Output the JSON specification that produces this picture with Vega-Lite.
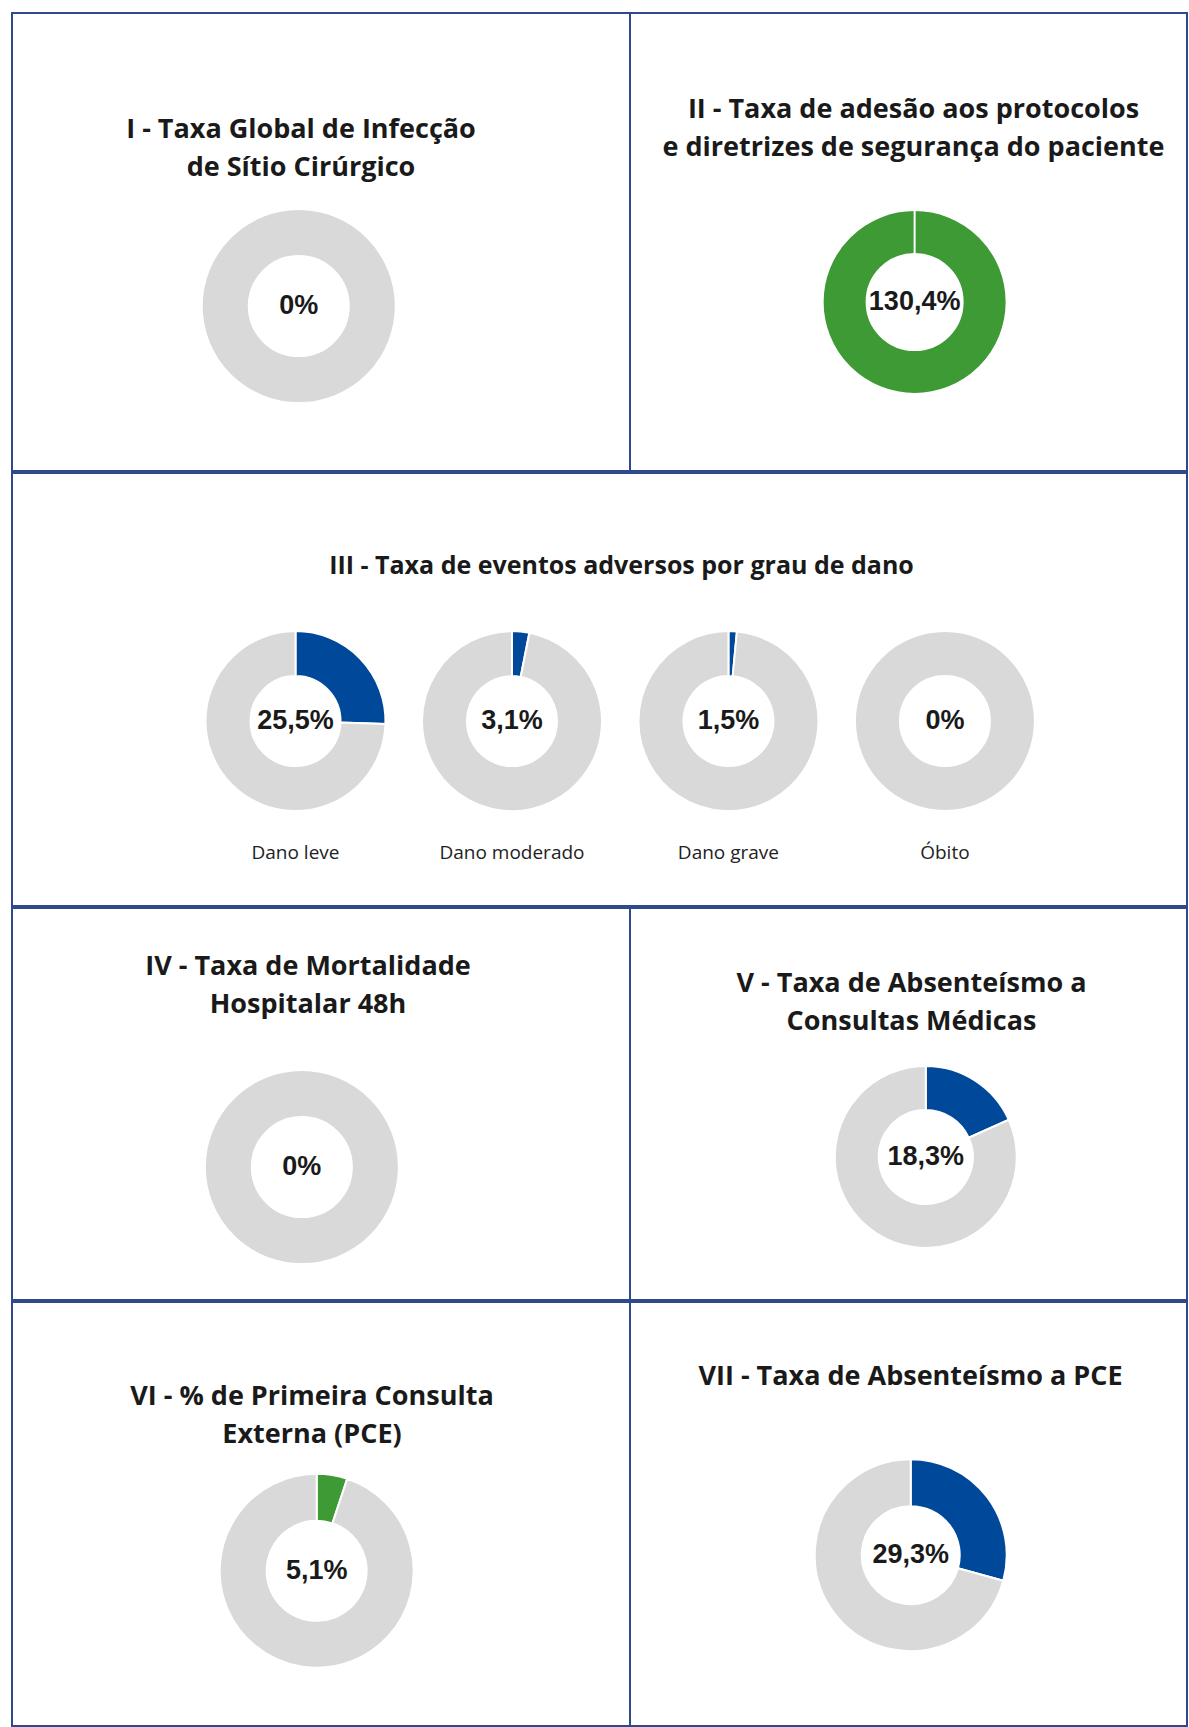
{
  "$schema": "https://vega.github.io/schema/vega-lite/v6.json",
  "padding": {"left": 11, "top": 12, "right": 0, "bottom": 0},
  "background": "white",
  "spacing": 0,
  "config": {
    "view": {"stroke": "#2F4A8A", "strokeWidth": 2},
    "concat": {"spacing": 0},
    "locale": {"number": {"decimal": ",", "thousands": ".", "grouping": [3], "currency": ["R$", ""]}},
    "title": {"font": "Open Sans", "fontWeight": "bold", "fontSize": 27, "color": "#1a1a1a", "lineHeight": 38, "anchor": "middle", "frame": "group"},
    "arc": {"stroke": "white", "strokeWidth": 2},
    "text": {"font": "Liberation Sans", "fontWeight": "bold", "fontSize": 27, "color": "#1a1a1a", "baseline": "middle", "align": "center"}
  },
  "datasets": {
    "ind_I": [{"parte": "valor", "pct": 0}, {"parte": "restante", "pct": 1}],
    "ind_II": [{"parte": "valor", "pct": 1.304}, {"parte": "restante", "pct": 0}],
    "ind_III": [
      {"grau": "Dano leve", "parte": "valor", "pct": 0.255}, {"grau": "Dano leve", "parte": "restante", "pct": 0.745},
      {"grau": "Dano moderado", "parte": "valor", "pct": 0.031}, {"grau": "Dano moderado", "parte": "restante", "pct": 0.969},
      {"grau": "Dano grave", "parte": "valor", "pct": 0.015}, {"grau": "Dano grave", "parte": "restante", "pct": 0.985},
      {"grau": "Óbito", "parte": "valor", "pct": 0}, {"grau": "Óbito", "parte": "restante", "pct": 1}
    ],
    "ind_IV": [{"parte": "valor", "pct": 0}, {"parte": "restante", "pct": 1}],
    "ind_V": [{"parte": "valor", "pct": 0.183}, {"parte": "restante", "pct": 0.817}],
    "ind_VI": [{"parte": "valor", "pct": 0.051}, {"parte": "restante", "pct": 0.949}],
    "ind_VII": [{"parte": "valor", "pct": 0.293}, {"parte": "restante", "pct": 0.707}]
  },
  "resolve": {"scale": {"color": "independent", "theta": "independent", "x": "independent", "y": "independent"}},
  "vconcat": [
    {
      "bounds": "flush",
      "resolve": {"scale": {"color": "independent", "theta": "independent", "x": "independent", "y": "independent"}},
      "hconcat": [
        {
          "width": 618, "height": 458,
          "title": {"text": ["I - Taxa Global de Infecção", "de Sítio Cirúrgico"], "offset": -169, "dx": -20},
          "data": {"name": "ind_I"},
          "encoding": {
            "x": {"datum": 0.464, "type": "quantitative", "scale": {"domain": [0, 1], "nice": false}, "axis": null},
            "y": {"datum": 0.64, "type": "quantitative", "scale": {"domain": [0, 1], "nice": false, "reverse": true}, "axis": null}
          },
          "layer": [
            {
              "mark": {"type": "arc", "radius": 97, "innerRadius": 50},
              "encoding": {
                "theta": {"field": "pct", "type": "quantitative", "stack": true},
                "color": {"field": "parte", "type": "nominal", "scale": {"domain": ["valor", "restante"], "range": ["#00489A", "#D9D9D9"]}, "legend": null},
                "order": {"field": "parte", "type": "nominal", "sort": "descending"}
              }
            },
            {
              "transform": [{"filter": "datum.parte == 'valor'"}],
              "mark": {"type": "text"},
              "encoding": {"text": {"field": "pct", "type": "quantitative", "format": ".1~%"}}
            }
          ]
        },
        {
          "width": 557, "height": 458,
          "title": {"text": ["II - Taxa de adesão aos protocolos", "e diretrizes de segurança do paciente"], "offset": -149, "dx": 5},
          "data": {"name": "ind_II"},
          "encoding": {
            "x": {"datum": 0.511, "type": "quantitative", "scale": {"domain": [0, 1], "nice": false}, "axis": null},
            "y": {"datum": 0.631, "type": "quantitative", "scale": {"domain": [0, 1], "nice": false, "reverse": true}, "axis": null}
          },
          "layer": [
            {
              "mark": {"type": "arc", "radius": 92, "innerRadius": 48},
              "encoding": {
                "theta": {"field": "pct", "type": "quantitative", "stack": true},
                "color": {"field": "parte", "type": "nominal", "scale": {"domain": ["valor", "restante"], "range": ["#3D9A35", "#D9D9D9"]}, "legend": null},
                "order": {"field": "parte", "type": "nominal", "sort": "descending"}
              }
            },
            {
              "transform": [{"filter": "datum.parte == 'valor'"}],
              "mark": {"type": "text"},
              "encoding": {"text": {"field": "pct", "type": "quantitative", "format": ".1~%"}}
            }
          ]
        }
      ]
    },
    {
      "width": 1175, "height": 433,
      "title": {"text": "III - Taxa de eventos adversos por grau de dano", "offset": -106, "dx": 22, "fontSize": 25},
      "data": {"name": "ind_III"},
      "transform": [
        {"stack": "pct", "groupby": ["grau"], "sort": [{"field": "parte", "order": "descending"}], "offset": "normalize", "as": ["t0", "t1"]}
      ],
      "encoding": {
        "x": {
          "field": "grau", "type": "nominal", "sort": ["Dano leve", "Dano moderado", "Dano grave", "Óbito"],
          "scale": {"type": "band", "paddingInner": 0, "paddingOuter": 0.714, "align": 0.567},
          "axis": {"title": null, "orient": "bottom", "domain": false, "ticks": false, "grid": false, "offset": -63, "labelPadding": 0, "labelFont": "Open Sans", "labelFontSize": 19, "labelColor": "#222222", "labelAngle": 0}
        },
        "y": {"datum": 0.573, "type": "quantitative", "scale": {"domain": [0, 1], "nice": false, "reverse": true}, "axis": null}
      },
      "layer": [
        {
          "mark": {"type": "arc", "radius": 90, "innerRadius": 45},
          "encoding": {
            "theta": {"field": "t0", "type": "quantitative", "scale": {"domain": [0, 1]}},
            "theta2": {"field": "t1"},
            "color": {"field": "parte", "type": "nominal", "scale": {"domain": ["valor", "restante"], "range": ["#00489A", "#D9D9D9"]}, "legend": null}
          }
        },
        {
          "transform": [{"filter": "datum.parte == 'valor'"}],
          "mark": {"type": "text"},
          "encoding": {"text": {"field": "pct", "type": "quantitative", "format": ".1~%"}}
        }
      ]
    },
    {
      "bounds": "flush",
      "resolve": {"scale": {"color": "independent", "theta": "independent", "x": "independent", "y": "independent"}},
      "hconcat": [
        {
          "width": 618, "height": 392,
          "title": {"text": ["IV - Taxa de Mortalidade", "Hospitalar 48h"], "offset": -111, "dx": -13},
          "data": {"name": "ind_IV"},
          "encoding": {
            "x": {"datum": 0.469, "type": "quantitative", "scale": {"domain": [0, 1], "nice": false}, "axis": null},
            "y": {"datum": 0.661, "type": "quantitative", "scale": {"domain": [0, 1], "nice": false, "reverse": true}, "axis": null}
          },
          "layer": [
            {
              "mark": {"type": "arc", "radius": 97, "innerRadius": 50},
              "encoding": {
                "theta": {"field": "pct", "type": "quantitative", "stack": true},
                "color": {"field": "parte", "type": "nominal", "scale": {"domain": ["valor", "restante"], "range": ["#00489A", "#D9D9D9"]}, "legend": null},
                "order": {"field": "parte", "type": "nominal", "sort": "descending"}
              }
            },
            {
              "transform": [{"filter": "datum.parte == 'valor'"}],
              "mark": {"type": "text"},
              "encoding": {"text": {"field": "pct", "type": "quantitative", "format": ".1~%"}}
            }
          ]
        },
        {
          "width": 557, "height": 392,
          "title": {"text": ["V - Taxa de Absenteísmo a", "Consultas Médicas"], "offset": -128, "dx": 3},
          "data": {"name": "ind_V"},
          "encoding": {
            "x": {"datum": 0.531, "type": "quantitative", "scale": {"domain": [0, 1], "nice": false}, "axis": null},
            "y": {"datum": 0.635, "type": "quantitative", "scale": {"domain": [0, 1], "nice": false, "reverse": true}, "axis": null}
          },
          "layer": [
            {
              "mark": {"type": "arc", "radius": 91, "innerRadius": 47},
              "encoding": {
                "theta": {"field": "pct", "type": "quantitative", "stack": true},
                "color": {"field": "parte", "type": "nominal", "scale": {"domain": ["valor", "restante"], "range": ["#00489A", "#D9D9D9"]}, "legend": null},
                "order": {"field": "parte", "type": "nominal", "sort": "descending"}
              }
            },
            {
              "transform": [{"filter": "datum.parte == 'valor'"}],
              "mark": {"type": "text"},
              "encoding": {"text": {"field": "pct", "type": "quantitative", "format": ".1~%"}}
            }
          ]
        }
      ]
    },
    {
      "bounds": "flush",
      "resolve": {"scale": {"color": "independent", "theta": "independent", "x": "independent", "y": "independent"}},
      "hconcat": [
        {
          "width": 618, "height": 424,
          "title": {"text": ["VI - % de Primeira Consulta", "Externa (PCE)"], "offset": -147, "dx": -9},
          "data": {"name": "ind_VI"},
          "encoding": {
            "x": {"datum": 0.493, "type": "quantitative", "scale": {"domain": [0, 1], "nice": false}, "axis": null},
            "y": {"datum": 0.634, "type": "quantitative", "scale": {"domain": [0, 1], "nice": false, "reverse": true}, "axis": null}
          },
          "layer": [
            {
              "mark": {"type": "arc", "radius": 97, "innerRadius": 50},
              "encoding": {
                "theta": {"field": "pct", "type": "quantitative", "stack": true},
                "color": {"field": "parte", "type": "nominal", "scale": {"domain": ["valor", "restante"], "range": ["#3D9A35", "#D9D9D9"]}, "legend": null},
                "order": {"field": "parte", "type": "nominal", "sort": "descending"}
              }
            },
            {
              "transform": [{"filter": "datum.parte == 'valor'"}],
              "mark": {"type": "text"},
              "encoding": {"text": {"field": "pct", "type": "quantitative", "format": ".1~%"}}
            }
          ]
        },
        {
          "width": 557, "height": 424,
          "title": {"text": "VII - Taxa de Absenteísmo a PCE", "offset": -89, "dx": 2},
          "data": {"name": "ind_VII"},
          "encoding": {
            "x": {"datum": 0.504, "type": "quantitative", "scale": {"domain": [0, 1], "nice": false}, "axis": null},
            "y": {"datum": 0.597, "type": "quantitative", "scale": {"domain": [0, 1], "nice": false, "reverse": true}, "axis": null}
          },
          "layer": [
            {
              "mark": {"type": "arc", "radius": 96, "innerRadius": 49},
              "encoding": {
                "theta": {"field": "pct", "type": "quantitative", "stack": true},
                "color": {"field": "parte", "type": "nominal", "scale": {"domain": ["valor", "restante"], "range": ["#00489A", "#D9D9D9"]}, "legend": null},
                "order": {"field": "parte", "type": "nominal", "sort": "descending"}
              }
            },
            {
              "transform": [{"filter": "datum.parte == 'valor'"}],
              "mark": {"type": "text"},
              "encoding": {"text": {"field": "pct", "type": "quantitative", "format": ".1~%"}}
            }
          ]
        }
      ]
    }
  ]
}
